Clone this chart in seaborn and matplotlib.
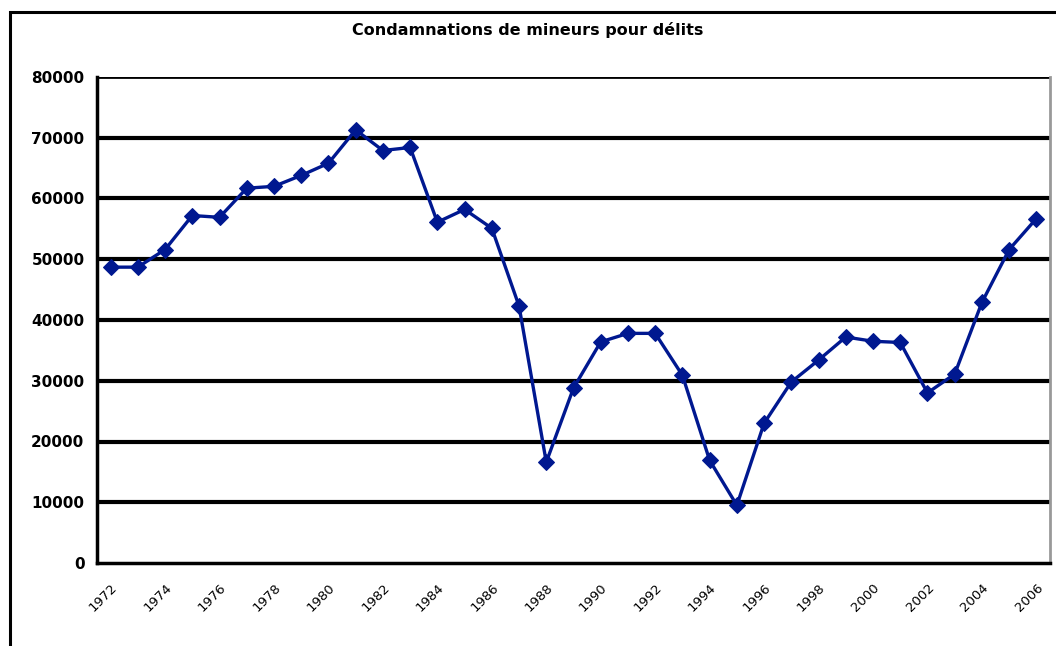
import matplotlib
matplotlib.use("Agg")
import matplotlib.pyplot as plt
import matplotlib.patches as mpatches
import seaborn as sns
import pandas as pd
import numpy as np

years = list(range(1972, 2007))
values = [48700, 48700, 51600, 57200, 56900, 61700, 62000, 63800, 65800, 71300,
          67900, 68400, 56100, 58200, 55100, 42300, 16600, 28800, 36400, 37800,
          37800, 30900, 16900, 9500, 23000, 29800, 33400, 37200, 36500, 36300,
          28000, 31100, 42900, 51600, 56700]
title = "Condamnations de mineurs pour délits"
y_ticks = [0, 10000, 20000, 30000, 40000, 50000, 60000, 70000, 80000]

df = pd.DataFrame({"idx": np.arange(len(years)), "year": years, "value": values})

sns.set_style("white")
plt.rcParams["font.family"] = ["DejaVu Sans"]
plt.rcParams["text.color"] = "black"
plt.rcParams["xtick.color"] = "black"
plt.rcParams["ytick.color"] = "black"
plt.rcParams["axes.labelcolor"] = "black"

fig = plt.figure(figsize=(10.56, 6.46), dpi=100)
ax = fig.add_axes([97/1056, 1 - 563/646, (1050 - 97)/1056, (563 - 77)/646])

# outer chart border
fig.patches.append(mpatches.Rectangle((10/1056, -0.1), 1.2, 1 - 12/646 + 0.1,
                                      transform=fig.transFigure, fill=False,
                                      edgecolor="black", linewidth=2.2, zorder=0))

for yv in y_ticks[1:]:
    ax.axhline(yv, color="black", linewidth=3.0 if yv < 80000 else 2.0, zorder=1)

sns.lineplot(data=df, x="idx", y="value", ax=ax, color="#001890", linewidth=2.4,
             marker="D", markersize=8.5, markeredgecolor="#001890", zorder=3)

n = len(years)
ax.set_xlim(-0.5, n - 0.5)
ax.set_ylim(0, 80000)
ax.set_yticks(y_ticks)
ax.set_yticklabels([str(v) for v in y_ticks], fontsize=11, fontweight="bold",
                   color="black")

ax.set_xticks(np.arange(0, n, 2))
ax.set_xticklabels([str(years[i]) for i in range(0, n, 2)], rotation=45,
                   ha="right", va="top", rotation_mode="anchor", fontsize=9.5,
                   color="black")
ax.set_xticks(np.arange(-0.5, n, 1), minor=True)
ax.tick_params(axis="x", which="major", length=0, pad=13)
ax.tick_params(axis="x", which="minor", length=6, width=2, color="black", direction="out")
ax.tick_params(axis="y", length=6, width=2, color="black", direction="out", pad=3)

ax.set_xlabel("")
ax.set_ylabel("")
for s in ["left", "bottom"]:
    ax.spines[s].set_color("black")
    ax.spines[s].set_linewidth(2.5)
ax.spines["top"].set_visible(False)
ax.spines["right"].set_color("#999999")
ax.spines["right"].set_linewidth(2)

fig.text(528/1056, 1 - 30/646, title, ha="center", va="center",
         fontsize=11.5, fontweight="bold", color="black")

fig.savefig("out.png", dpi=100)
